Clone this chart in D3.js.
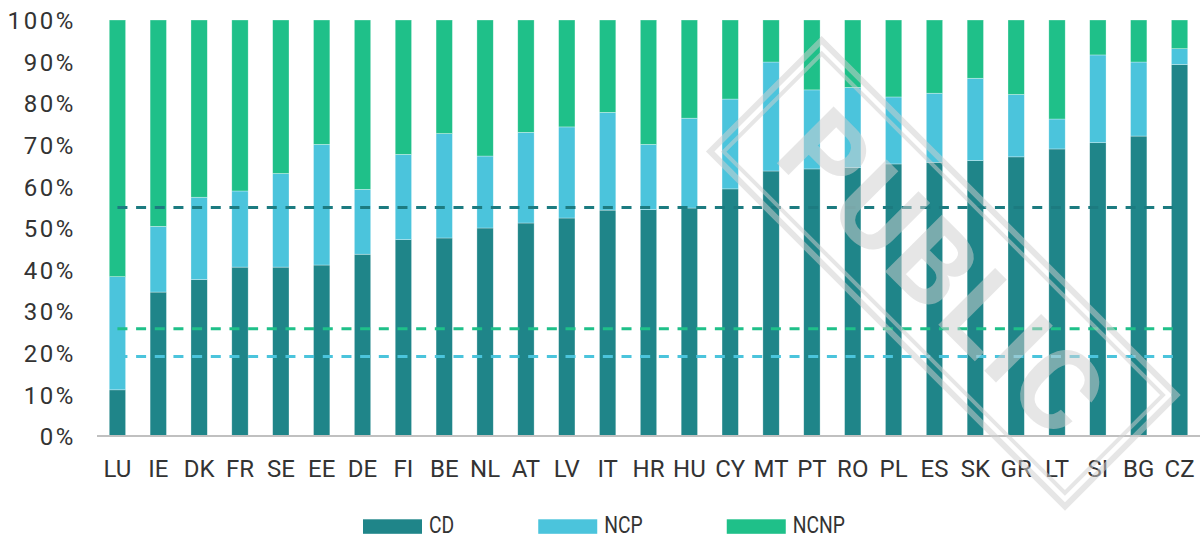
<!DOCTYPE html>
<html>
<head>
<meta charset="utf-8">
<script src="https://cdn.jsdelivr.net/npm/d3@7"></script>
<style>
  html, body { margin: 0; padding: 0; background: #ffffff; }
  svg { display: block; }
</style>
</head>
<body>
<svg id="chart" width="1202" height="539"></svg>
<script>
// ---- data (percent) ----
const categories = ["LU","IE","DK","FR","SE","EE","DE","FI","BE","NL","AT","LV","IT","HR","HU","CY","MT","PT","RO","PL","ES","SK","GR","LT","SI","BG","CZ"];
const cdValues   = [11.1,34.6,37.6,40.6,40.6,41.1,43.7,47.2,47.6,50.0,51.2,52.4,54.3,54.4,54.8,59.4,63.7,64.2,64.5,65.4,65.8,66.2,67.1,69.0,70.5,72.1,89.3];
const ncpValues  = [27.2,15.8,19.8,18.3,22.5,29.0,15.6,20.5,25.1,17.3,21.8,21.9,23.5,15.7,21.6,21.6,26.2,19.0,19.3,16.1,16.6,19.8,15.0,7.2,21.1,17.8,3.8];
const ncnpValues = [61.7,49.6,42.6,41.1,36.9,29.9,40.7,32.3,27.3,32.7,27.0,25.7,22.2,29.9,23.6,19.0,10.1,16.8,16.2,18.5,17.6,14.0,17.9,23.8,8.4,10.1,6.9];
const seriesNames = ["CD","NCP","NCNP"];
const averageValues = [54.9, 19.1, 25.8];   // CD, NCP, NCNP reference lines
const yTickValues = [0,10,20,30,40,50,60,70,80,90,100];
const yTickLabels = ["0%","10%","20%","30%","40%","50%","60%","70%","80%","90%","100%"];
const watermarkText = "PUBLIC";

// ---- styling ----
const colors = { CD: "#1f8589", NCP: "#4bc4dc", NCNP: "#1fc089" };
const lineColors = { CD: "#1c7b80", NCP: "#4bc4dc", NCNP: "#1fc089" };
const textColor = "#333333";

const svg = d3.select("#chart");
const plot = { left: 97, right: 1200, top: 20, bottom: 436 };

const rows = categories.map((c, i) => ({ cat: c, CD: cdValues[i], NCP: ncpValues[i], NCNP: ncnpValues[i] }));

const x = d3.scaleBand().domain(categories).range([plot.left, plot.right]).paddingInner(0.6).paddingOuter(0.3);
const y = d3.scaleLinear().domain([0, 100]).range([plot.bottom, plot.top]);

const stacked = d3.stack().keys(seriesNames)(rows);

// bars
svg.append("g").selectAll("g.series").data(stacked).join("g")
  .attr("class", "series")
  .attr("fill", d => colors[d.key])
  .selectAll("rect").data(d => d).join("rect")
  .attr("x", d => x(d.data.cat))
  .attr("width", x.bandwidth())
  .attr("y", d => y(d[1]))
  .attr("height", d => y(d[0]) - y(d[1]))
  .attr("stroke", "#ffffff")
  .attr("stroke-width", 0.6)
  .attr("stroke-opacity", 0.5);

// x axis baseline
svg.append("line")
  .attr("x1", plot.left).attr("x2", plot.right)
  .attr("y1", y(0)).attr("y2", y(0))
  .attr("stroke", "#c0c0c0").attr("stroke-width", 2);

// dashed average lines
const xStart = x(categories[0]) + x.bandwidth() / 2;
const xEnd = x(categories[categories.length - 1]) + x.bandwidth() / 2;
svg.append("g").selectAll("line").data(seriesNames).join("line")
  .attr("x1", xStart).attr("x2", xEnd)
  .attr("y1", (d, i) => y(averageValues[i]))
  .attr("y2", (d, i) => y(averageValues[i]))
  .attr("stroke", d => lineColors[d])
  .attr("stroke-width", 3)
  .attr("stroke-dasharray", "10,8.67");

// y axis labels
const yAxis = d3.axisLeft(y).tickValues(yTickValues)
  .tickFormat((d, i) => yTickLabels[i]).tickSize(0).tickPadding(0);
const gy = svg.append("g").attr("transform", "translate(76,0)").call(yAxis);
gy.select(".domain").remove();
gy.selectAll("text")
  .attr("fill", textColor)
  .style("font-family", "Roboto, 'DejaVu Sans', sans-serif")
  .style("font-size", "24px")
  .style("letter-spacing", "2.6px")
  .attr("dy", "0.36em");

// x axis labels
const xAxis = d3.axisBottom(x).tickSize(0).tickPadding(0);
const gx = svg.append("g").attr("transform", `translate(0,${y(0)})`).call(xAxis);
gx.select(".domain").remove();
gx.selectAll("text")
  .attr("fill", textColor)
  .attr("y", 41).attr("dy", 0)
  .style("font-family", "Roboto, 'DejaVu Sans', sans-serif")
  .style("font-size", "24px");

// legend
const legend = svg.append("g");
let cursor = 363;
const legendScaleX = 0.84;
seriesNames.forEach(name => {
  legend.append("rect")
    .attr("x", cursor).attr("y", 519.3)
    .attr("width", 59).attr("height", 14.5)
    .attr("fill", colors[name]);
  const tx = cursor + 66;
  const t = legend.append("text")
    .attr("transform", `translate(${tx},532.5) scale(${legendScaleX},1)`)
    .attr("fill", textColor)
    .style("font-family", "Roboto, 'DejaVu Sans', sans-serif")
    .style("font-size", "23px")
    .text(name);
  const w = t.node().getComputedTextLength() * legendScaleX;
  cursor = tx + w + 84;
});

// watermark stamp
const wm = svg.append("g")
  .attr("transform", "translate(943.3,273.3) rotate(45)");
const wmColor = "rgb(207,207,207)";
const wmAlpha = 0.52;
wm.append("rect")
  .attr("x", -250.9).attr("y", -78.8).attr("width", 501.8).attr("height", 157.6)
  .attr("fill", "none").attr("stroke", wmColor).attr("stroke-opacity", wmAlpha).attr("stroke-width", 6);
wm.append("rect")
  .attr("x", -241.3).attr("y", -69.3).attr("width", 482.6).attr("height", 138.6)
  .attr("fill", "none").attr("stroke", wmColor).attr("stroke-opacity", wmAlpha).attr("stroke-width", 4);
wm.append("text")
  .attr("x", 0).attr("y", 40)
  .attr("text-anchor", "middle")
  .attr("fill", wmColor).attr("fill-opacity", wmAlpha)
  .style("font-family", "Roboto, 'DejaVu Sans', sans-serif")
  .style("font-weight", "700")
  .style("font-size", "113px")
  .style("letter-spacing", "3px")
  .text(watermarkText);
</script>
</body>
</html>
